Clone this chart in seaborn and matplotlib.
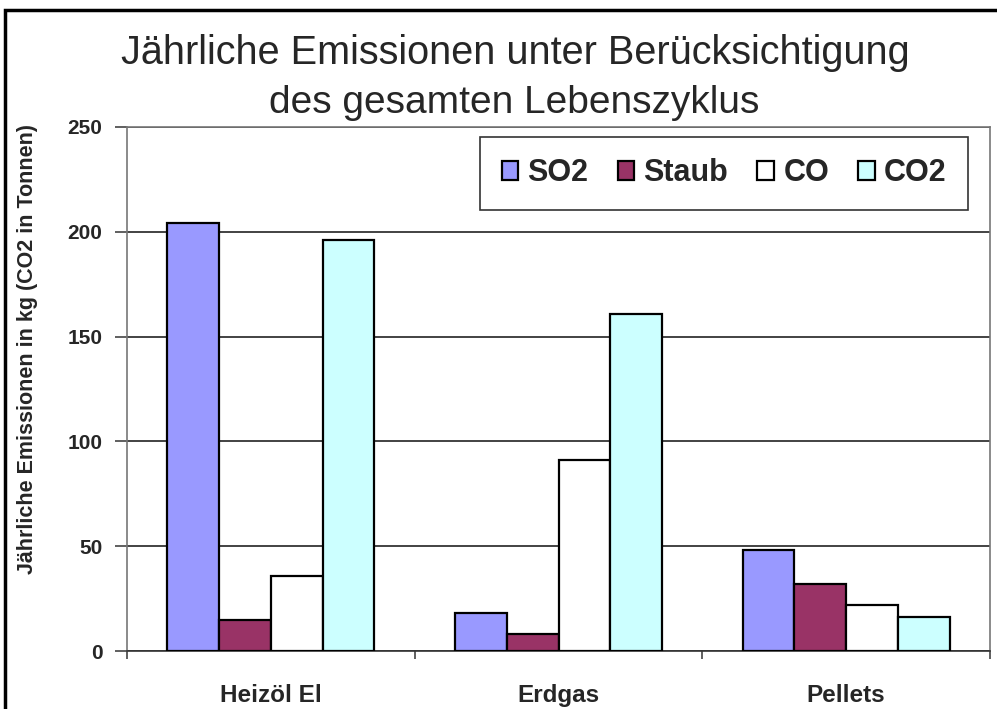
import matplotlib
matplotlib.use('Agg')
import matplotlib.pyplot as plt
import seaborn as sns
import pandas as pd
from matplotlib.patches import Rectangle

# data
categories = ['Heizöl El', 'Erdgas', 'Pellets']
series = ['SO2', 'Staub', 'CO', 'CO2']
so2 = [204, 18, 48]
staub = [15, 8, 32]
co = [36, 91, 22]
co2 = [196, 161, 16]
colors = ['#9999FF', '#993366', '#FFFFFF', '#CCFFFF']

rows = []
for name, vals in zip(series, [so2, staub, co, co2]):
    for cat, v in zip(categories, vals):
        rows.append({'Brennstoff': cat, 'Stoff': name, 'Wert': v})
df = pd.DataFrame(rows)

sns.set_theme(style='white')
plt.rcParams['font.family'] = ['Liberation Sans', 'DejaVu Sans']

fig = plt.figure(figsize=(9.97, 7.09), dpi=100)
ax = fig.add_axes([0.1274, 0.0818, 0.8656, 0.7391])

sns.barplot(data=df, x='Brennstoff', y='Wert', hue='Stoff', order=categories,
            hue_order=series, palette=colors, width=0.72, edgecolor='black',
            linewidth=1.6, saturation=1, ax=ax, zorder=3)

ax.set_ylim(0, 250)
ax.set_xlim(-0.5, 2.5)
ax.set_yticks([0, 50, 100, 150, 200, 250])
ax.yaxis.grid(True, color='#222222', linewidth=1.2, zorder=0)
ax.set_axisbelow(True)
for s in ax.spines.values():
    s.set_color('#777777')
    s.set_linewidth(1.2)
ax.spines['bottom'].set_color('#333333')

ax.tick_params(axis='y', which='major', direction='out', length=8.6, width=1.2,
               color='#444444', left=True, pad=9, labelsize=15)
for lab in ax.get_yticklabels():
    lab.set_fontweight('bold')

ax.set_xticks([-0.5, 0.5, 1.5, 2.5], minor=True)
ax.tick_params(axis='x', which='minor', direction='out', length=6, width=1.2,
               color='#444444', bottom=True)
ax.tick_params(axis='x', which='major', length=0, pad=24, labelsize=17.5)
for lab in ax.get_xticklabels():
    lab.set_fontweight('bold')

ax.set_xlabel('')
ax.set_ylabel('Jährliche Emissionen in kg (CO2 in Tonnen)', fontsize=15.5,
              fontweight='bold')
ax.yaxis.set_label_coords(-0.103, 0.576)

leg = ax.legend(loc='upper right', ncol=4, bbox_to_anchor=(0.9745, 0.981),
                frameon=True, fancybox=False, edgecolor='black',
                prop={'weight': 'bold', 'size': 22}, handlelength=0.55,
                handleheight=0.55, handletextpad=0.3, columnspacing=0.95,
                borderpad=0.7, borderaxespad=0)
leg.get_frame().set_linewidth(1.2)

fig.text(0.517, 0.925, 'Jährliche Emissionen unter Berücksichtigung',
         ha='center', va='center', fontsize=28.5)
fig.text(0.516, 0.855, 'des gesamten Lebenszyklus',
         ha='center', va='center', fontsize=28)

fig.patches.append(Rectangle((0.005, -0.05), 1.1, 1.036, transform=fig.transFigure,
                             fill=False, edgecolor='black', linewidth=2.5))

fig.savefig('out.png', dpi=100)
